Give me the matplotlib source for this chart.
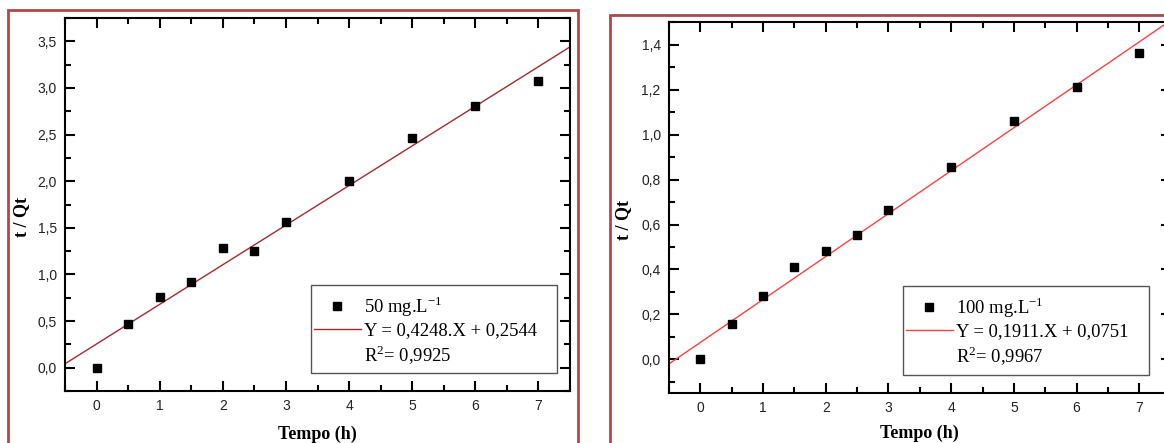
import matplotlib
matplotlib.use("Agg")
import matplotlib.pyplot as plt
from matplotlib.lines import Line2D
from matplotlib.patches import Rectangle
from matplotlib.ticker import MultipleLocator, FuncFormatter

# data
tempo = [0, 0.5, 1, 1.5, 2, 2.5, 3, 4, 5, 6, 7]
t_qt_50 = [0.0, 0.47, 0.76, 0.92, 1.28, 1.25, 1.56, 2.0, 2.46, 2.81, 3.07]
t_qt_100 = [0.0, 0.155, 0.28, 0.41, 0.48, 0.555, 0.665, 0.855, 1.06, 1.21, 1.365]

slope_50, icpt_50 = 0.4248, 0.2544
slope_100, icpt_100 = 0.1911, 0.0751

labels_50 = ['50 mg.L$^{-1}$', 'Y = 0,4248.X + 0,2544', 'R$^{2}$= 0,9925']
labels_100 = ['100 mg.L$^{-1}$', 'Y = 0,1911.X + 0,0751', 'R$^{2}$= 0,9967']

sans = ['Liberation Sans', 'DejaVu Sans']
serif = ['Liberation Serif', 'DejaVu Serif']
plt.rcParams['mathtext.fontset'] = 'custom'
plt.rcParams['mathtext.rm'] = 'Liberation Serif'

W, H = 1164, 443
fig = plt.figure(figsize=(W / 100, H / 100), dpi=100)

# dark red frames around each panel
fig.add_artist(Rectangle((8 / W, -0.1), 570 / W, (H - 10) / H + 0.1,
                         transform=fig.transFigure, fill=False,
                         edgecolor='#b04848', linewidth=2))
fig.add_artist(Rectangle((610 / W, -0.1), 0.6, (H - 15) / H + 0.1,
                         transform=fig.transFigure, fill=False,
                         edgecolor='#b04848', linewidth=2))

comma = FuncFormatter(lambda v, p: ('%.1f' % v).replace('.', ','))


def panel(px, y, slope, icpt, ylim, ystep, color, labels, box, ylab_x, xlab_y):
    # px = (left, top, right, bottom) of the axes in pixels
    l, t, r, b = px
    ax = fig.add_axes([l / W, 1 - b / H, (r - l) / W, (b - t) / H])
    x0, x1 = -0.5, 7.5
    ax.plot([x0, x1], [slope * x0 + icpt, slope * x1 + icpt], color=color, lw=1)
    ax.plot(tempo, y, 's', color='black', ms=6, zorder=3)
    ax.set_xlim(x0, x1)
    ax.set_ylim(*ylim)
    ax.xaxis.set_major_locator(MultipleLocator(1))
    ax.xaxis.set_minor_locator(MultipleLocator(0.5))
    ax.yaxis.set_major_locator(MultipleLocator(ystep))
    ax.yaxis.set_minor_locator(MultipleLocator(ystep / 2))
    ax.yaxis.set_major_formatter(comma)
    ax.tick_params(which='both', direction='in', top=True, right=True,
                   width=1.5, labelsize=10, pad=6)
    ax.tick_params(which='major', length=7)
    ax.tick_params(which='minor', length=4)
    for lab in ax.get_xticklabels() + ax.get_yticklabels():
        lab.set_family(sans)
        lab.set_color('#222222')
    for s in ax.spines.values():
        s.set_linewidth(1.5)
    ax.set_xlabel('Tempo (h)', family=serif, fontsize=13, fontweight='bold')
    ax.set_ylabel('t / Qt', family=serif, fontsize=13, fontweight='bold')
    ax.xaxis.set_label_coords(0.5, xlab_y)
    ax.yaxis.set_label_coords(ylab_x, 0.466)

    # legend frame in pixels (left, top, right, bottom)
    bl, bt, br, bb = box
    to_ax = lambda xp, yp: ((xp - l) / (r - l), (b - yp) / (b - t))
    fx0, fy0 = to_ax(bl, bb)
    fx1, fy1 = to_ax(br, bt)
    ax.add_patch(Rectangle((fx0, fy0), fx1 - fx0, fy1 - fy0, transform=ax.transAxes,
                           facecolor='white', edgecolor='#555555', lw=1, zorder=4))
    handles = [Line2D([], [], marker='s', ls='none', color='black', ms=6),
               Line2D([], [], color=color, lw=1),
               Line2D([], [], ls='none')]
    leg = ax.legend(handles, labels, loc='upper left',
                    bbox_to_anchor=to_ax(bl + 3, bt + 9),
                    frameon=False, prop={'family': serif, 'size': 13.4},
                    handlelength=2.5, handletextpad=0.16, labelspacing=0.2,
                    borderpad=0, borderaxespad=0)
    leg.set_zorder(5)
    return ax


panel((65, 18, 570, 391), t_qt_50, slope_50, icpt_50,
      (-0.25, 3.75), 0.5, '#a52a2a', labels_50, (311, 285, 557, 373),
      -0.07, -0.093)

panel((669, 22.3, 1170.6, 393), t_qt_100, slope_100, icpt_100,
      (-0.15, 1.5), 0.2, '#ff4040', labels_100, (903, 286, 1149, 375),
      -0.074, -0.086)

fig.savefig('out.png', dpi=100)
